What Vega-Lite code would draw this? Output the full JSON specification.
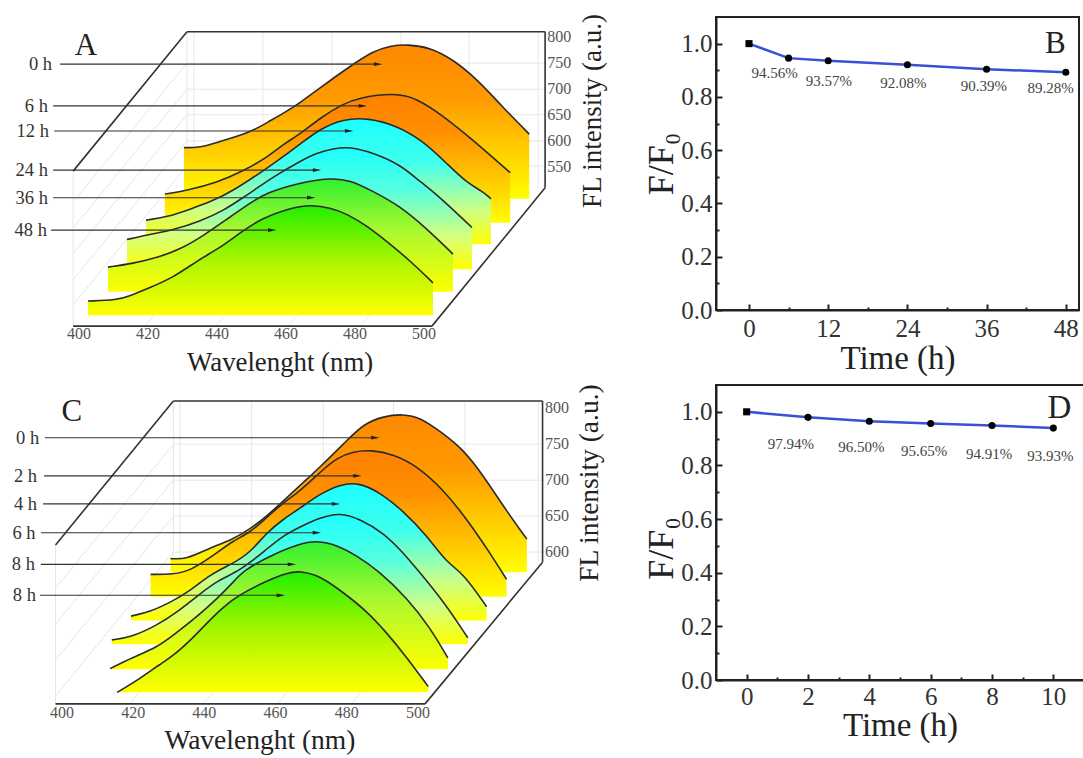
{"$schema":"https://vega.github.io/schema/vega-lite/v6.json","padding":{"left":0,"top":13,"right":0,"bottom":0},"background":"white","config":{"font":"Liberation Serif","text":{"font":"Liberation Serif"},"axis":{"labelFont":"Liberation Serif","titleFont":"Liberation Serif"}},
"datasets":{
"aC":[
{"s":0,"nm":430.4,"v":588,"b":490},{"s":0,"nm":435.1,"v":588,"b":490},{"s":0,"nm":440.0,"v":598,"b":490},{"s":0,"nm":449.6,"v":617,"b":490},{"s":0,"nm":454.5,"v":636,"b":490},{"s":0,"nm":460.3,"v":658,"b":490},{"s":0,"nm":464.1,"v":674,"b":490},{"s":0,"nm":469.9,"v":703,"b":490},{"s":0,"nm":478.6,"v":744,"b":490},{"s":0,"nm":485.2,"v":773,"b":490},{"s":0,"nm":490.2,"v":783,"b":490},{"s":0,"nm":495.1,"v":786,"b":490},{"s":0,"nm":501.8,"v":780,"b":490},{"s":0,"nm":508.4,"v":757,"b":490},{"s":0,"nm":515.4,"v":719,"b":490},{"s":0,"nm":522.9,"v":665,"b":490},{"s":0,"nm":530.5,"v":614,"b":490},
{"s":6,"nm":424.9,"v":499,"b":444},{"s":6,"nm":431.3,"v":506,"b":444},{"s":6,"nm":440.0,"v":521,"b":444},{"s":6,"nm":447.5,"v":543,"b":444},{"s":6,"nm":454.5,"v":569,"b":444},{"s":6,"nm":459.1,"v":594,"b":444},{"s":6,"nm":464.1,"v":614,"b":444},{"s":6,"nm":469.9,"v":645,"b":444},{"s":6,"nm":476.5,"v":672,"b":444},{"s":6,"nm":481.5,"v":684,"b":444},{"s":6,"nm":491.6,"v":693,"b":444},{"s":6,"nm":498.0,"v":682,"b":444},{"s":6,"nm":505.5,"v":649,"b":444},{"s":6,"nm":513.4,"v":607,"b":444},{"s":6,"nm":525.0,"v":540,"b":444},
{"s":12,"nm":419.4,"v":449,"b":403},{"s":12,"nm":425.5,"v":455,"b":403},{"s":12,"nm":432.2,"v":470,"b":403},{"s":12,"nm":438.8,"v":486,"b":403},{"s":12,"nm":444.6,"v":505,"b":403},{"s":12,"nm":453.3,"v":543,"b":403},{"s":12,"nm":460.3,"v":576,"b":403},{"s":12,"nm":464.1,"v":595,"b":403},{"s":12,"nm":469.9,"v":624,"b":403},{"s":12,"nm":476.5,"v":643,"b":403},{"s":12,"nm":483.8,"v":645,"b":403},{"s":12,"nm":492.2,"v":630,"b":403},{"s":12,"nm":499.7,"v":601,"b":403},{"s":12,"nm":506.7,"v":557,"b":403},{"s":12,"nm":512.5,"v":520,"b":403},{"s":12,"nm":516.8,"v":505,"b":403},{"s":12,"nm":519.4,"v":490,"b":403},
{"s":24,"nm":413.9,"v":412,"b":355},{"s":24,"nm":420.6,"v":422,"b":355},{"s":24,"nm":427.3,"v":430,"b":355},{"s":24,"nm":435.1,"v":447,"b":355},{"s":24,"nm":441.8,"v":467,"b":355},{"s":24,"nm":447.5,"v":492,"b":355},{"s":24,"nm":450.4,"v":505,"b":355},{"s":24,"nm":456.8,"v":534,"b":355},{"s":24,"nm":464.1,"v":562,"b":355},{"s":24,"nm":469.0,"v":578,"b":355},{"s":24,"nm":473.6,"v":586,"b":355},{"s":24,"nm":478.6,"v":590,"b":355},{"s":24,"nm":485.2,"v":578,"b":355},{"s":24,"nm":493.1,"v":556,"b":355},{"s":24,"nm":499.7,"v":518,"b":355},{"s":24,"nm":502.6,"v":505,"b":355},{"s":24,"nm":513.9,"v":435,"b":355},
{"s":36,"nm":408.4,"v":359,"b":312},{"s":36,"nm":415.7,"v":366,"b":312},{"s":36,"nm":422.6,"v":377,"b":312},{"s":36,"nm":429.3,"v":393,"b":312},{"s":36,"nm":436.0,"v":419,"b":312},{"s":36,"nm":442.9,"v":451,"b":312},{"s":36,"nm":449.6,"v":482,"b":312},{"s":36,"nm":454.5,"v":502,"b":312},{"s":36,"nm":464.1,"v":521,"b":312},{"s":36,"nm":472.8,"v":530,"b":312},{"s":36,"nm":478.6,"v":526,"b":312},{"s":36,"nm":485.0,"v":505,"b":312},{"s":36,"nm":493.1,"v":476,"b":312},{"s":36,"nm":500.9,"v":432,"b":312},{"s":36,"nm":508.4,"v":384,"b":312},
{"s":48,"nm":402.6,"v":294,"b":267},{"s":48,"nm":411.0,"v":296,"b":267},{"s":48,"nm":414.8,"v":304,"b":267},{"s":48,"nm":420.6,"v":320,"b":267},{"s":48,"nm":427.3,"v":339,"b":267},{"s":48,"nm":435.1,"v":375,"b":267},{"s":48,"nm":440.9,"v":396,"b":267},{"s":48,"nm":446.7,"v":425,"b":267},{"s":48,"nm":453.3,"v":454,"b":267},{"s":48,"nm":460.3,"v":470,"b":267},{"s":48,"nm":464.1,"v":475,"b":267},{"s":48,"nm":467.0,"v":478,"b":267},{"s":48,"nm":472.8,"v":473,"b":267},{"s":48,"nm":477.7,"v":461,"b":267},{"s":48,"nm":483.5,"v":438,"b":267},{"s":48,"nm":490.2,"v":403,"b":267},{"s":48,"nm":496.0,"v":371,"b":267},{"s":48,"nm":502.6,"v":329,"b":267}],
"cC":[
{"s":1,"nm":430.5,"v":591,"b":572},{"s":1,"nm":435.0,"v":590,"b":572},{"s":1,"nm":440.7,"v":604,"b":572},{"s":1,"nm":448.1,"v":618,"b":572},{"s":1,"nm":452.8,"v":632,"b":572},{"s":1,"nm":457.5,"v":650,"b":572},{"s":1,"nm":462.2,"v":671,"b":572},{"s":1,"nm":466.9,"v":693,"b":572},{"s":1,"nm":472.5,"v":718,"b":572},{"s":1,"nm":480.0,"v":755,"b":572},{"s":1,"nm":484.7,"v":778,"b":572},{"s":1,"nm":490.3,"v":789,"b":572},{"s":1,"nm":495.9,"v":792,"b":572},{"s":1,"nm":500.6,"v":787,"b":572},{"s":1,"nm":506.2,"v":768,"b":572},{"s":1,"nm":512.7,"v":743,"b":572},{"s":1,"nm":518.4,"v":706,"b":572},{"s":1,"nm":524.9,"v":657,"b":572},{"s":1,"nm":530.6,"v":618,"b":572},
{"s":2,"nm":424.9,"v":569,"b":538},{"s":2,"nm":431.3,"v":569,"b":538},{"s":2,"nm":436.0,"v":574,"b":538},{"s":2,"nm":442.5,"v":595,"b":538},{"s":2,"nm":448.1,"v":616,"b":538},{"s":2,"nm":452.8,"v":627,"b":538},{"s":2,"nm":457.5,"v":648,"b":538},{"s":2,"nm":462.2,"v":669,"b":538},{"s":2,"nm":466.9,"v":685,"b":538},{"s":2,"nm":472.5,"v":711,"b":538},{"s":2,"nm":477.2,"v":731,"b":538},{"s":2,"nm":481.8,"v":740,"b":538},{"s":2,"nm":487.0,"v":742,"b":538},{"s":2,"nm":493.1,"v":736,"b":538},{"s":2,"nm":499.7,"v":720,"b":538},{"s":2,"nm":507.1,"v":687,"b":538},{"s":2,"nm":513.7,"v":646,"b":538},{"s":2,"nm":520.2,"v":599,"b":538},{"s":2,"nm":524.9,"v":562,"b":538},
{"s":3,"nm":419.4,"v":511,"b":505},{"s":3,"nm":424.7,"v":517,"b":505},{"s":3,"nm":430.4,"v":530,"b":505},{"s":3,"nm":436.0,"v":546,"b":505},{"s":3,"nm":441.6,"v":569,"b":505},{"s":3,"nm":448.0,"v":584,"b":505},{"s":3,"nm":452.8,"v":599,"b":505},{"s":3,"nm":457.5,"v":627,"b":505},{"s":3,"nm":462.2,"v":646,"b":505},{"s":3,"nm":466.9,"v":661,"b":505},{"s":3,"nm":472.5,"v":681,"b":505},{"s":3,"nm":478.1,"v":694,"b":505},{"s":3,"nm":483.2,"v":697,"b":505},{"s":3,"nm":489.3,"v":683,"b":505},{"s":3,"nm":495.9,"v":657,"b":505},{"s":3,"nm":502.5,"v":623,"b":505},{"s":3,"nm":508.1,"v":585,"b":505},{"s":3,"nm":512.7,"v":571,"b":505},{"s":3,"nm":519.3,"v":524,"b":505},
{"s":4,"nm":414.0,"v":478,"b":472},{"s":4,"nm":419.1,"v":481,"b":472},{"s":4,"nm":426.6,"v":498,"b":472},{"s":4,"nm":432.2,"v":516,"b":472},{"s":4,"nm":438.8,"v":542,"b":472},{"s":4,"nm":443.5,"v":560,"b":472},{"s":4,"nm":450.0,"v":574,"b":472},{"s":4,"nm":457.5,"v":604,"b":472},{"s":4,"nm":462.2,"v":623,"b":472},{"s":4,"nm":466.9,"v":635,"b":472},{"s":4,"nm":472.5,"v":648,"b":472},{"s":4,"nm":478.1,"v":655,"b":472},{"s":4,"nm":483.7,"v":646,"b":472},{"s":4,"nm":490.3,"v":627,"b":472},{"s":4,"nm":495.9,"v":599,"b":472},{"s":4,"nm":500.1,"v":574,"b":472},{"s":4,"nm":507.1,"v":532,"b":472},{"s":4,"nm":514.0,"v":481,"b":472},
{"s":5,"nm":413.5,"v":438,"b":437},{"s":5,"nm":420.0,"v":454,"b":437},{"s":5,"nm":426.6,"v":467,"b":437},{"s":5,"nm":432.2,"v":488,"b":437},{"s":5,"nm":438.8,"v":514,"b":437},{"s":5,"nm":443.5,"v":535,"b":437},{"s":5,"nm":448.1,"v":558,"b":437},{"s":5,"nm":450.9,"v":574,"b":437},{"s":5,"nm":458.4,"v":595,"b":437},{"s":5,"nm":466.9,"v":612,"b":437},{"s":5,"nm":471.6,"v":616,"b":437},{"s":5,"nm":477.2,"v":610,"b":437},{"s":5,"nm":482.8,"v":595,"b":437},{"s":5,"nm":488.9,"v":574,"b":437},{"s":5,"nm":496.8,"v":537,"b":437},{"s":5,"nm":503.4,"v":495,"b":437},{"s":5,"nm":508.4,"v":453,"b":437},
{"s":6,"nm":415.5,"v":405,"b":405},{"s":6,"nm":421.9,"v":424,"b":405},{"s":6,"nm":427.5,"v":444,"b":405},{"s":6,"nm":431.3,"v":456,"b":405},{"s":6,"nm":436.9,"v":481,"b":405},{"s":6,"nm":442.5,"v":511,"b":405},{"s":6,"nm":448.1,"v":535,"b":405},{"s":6,"nm":451.9,"v":546,"b":405},{"s":6,"nm":457.5,"v":560,"b":405},{"s":6,"nm":463.1,"v":571,"b":405},{"s":6,"nm":466.9,"v":574,"b":405},{"s":6,"nm":472.5,"v":567,"b":405},{"s":6,"nm":479.0,"v":544,"b":405},{"s":6,"nm":485.6,"v":518,"b":405},{"s":6,"nm":491.2,"v":488,"b":405},{"s":6,"nm":496.8,"v":454,"b":405},{"s":6,"nm":502.9,"v":413,"b":405}],
"aL":[
{"k":"g","nm":433.3,"v":810,"nm2":433.3,"v2":511},{"k":"g","nm":453.3,"v":810,"nm2":453.3,"v2":511},{"k":"g","nm":473.3,"v":810,"nm2":473.3,"v2":511},{"k":"g","nm":493.3,"v":810,"nm2":493.3,"v2":511},{"k":"g","nm":513.1,"v":810,"nm2":513.1,"v2":511},{"k":"g","nm":533.1,"v":810,"nm2":533.1,"v2":511},{"k":"g","nm":431.3,"v":810,"nm2":431.3,"v2":511},{"k":"g","nm":398.3,"v":543,"nm2":398.3,"v2":246},
{"k":"g","nm":431.3,"v":750,"nm2":535.1,"v2":750},{"k":"g","nm":431.3,"v":700,"nm2":535.1,"v2":700},{"k":"g","nm":431.3,"v":651,"nm2":535.1,"v2":651},{"k":"g","nm":431.3,"v":601,"nm2":535.1,"v2":601},{"k":"g","nm":431.3,"v":553,"nm2":535.1,"v2":553},
{"k":"g","nm":431.3,"v":750,"nm2":398.3,"v2":484},{"k":"g","nm":431.3,"v":700,"nm2":398.3,"v2":434},{"k":"g","nm":431.3,"v":651,"nm2":398.3,"v2":385},{"k":"g","nm":431.3,"v":601,"nm2":398.3,"v2":335},{"k":"g","nm":431.3,"v":553,"nm2":398.3,"v2":287},
{"k":"g","nm":419.1,"v":246,"nm2":452.2,"v2":511},{"k":"g","nm":439.7,"v":246,"nm2":472.8,"v2":511},{"k":"g","nm":460.6,"v":246,"nm2":493.6,"v2":511},{"k":"g","nm":481.5,"v":246,"nm2":514.5,"v2":511},
{"k":"f","nm":398.3,"v":543,"nm2":431.3,"v2":810},{"k":"f","nm":431.3,"v":810,"nm2":535.1,"v2":810},{"k":"f","nm":535.1,"v":810,"nm2":535.1,"v2":511},{"k":"f","nm":535.1,"v":511,"nm2":502.3,"v2":246},{"k":"f","nm":502.3,"v":246,"nm2":398.3,"v2":246}],
"cL":[
{"k":"g","nm":433.2,"v":810,"nm2":433.2,"v2":586},{"k":"g","nm":453.3,"v":810,"nm2":453.3,"v2":586},{"k":"g","nm":473.4,"v":810,"nm2":473.4,"v2":586},{"k":"g","nm":493.1,"v":810,"nm2":493.1,"v2":586},{"k":"g","nm":513.2,"v":810,"nm2":513.2,"v2":586},{"k":"g","nm":533.8,"v":810,"nm2":533.8,"v2":586},{"k":"g","nm":431.3,"v":810,"nm2":431.3,"v2":586},{"k":"g","nm":398.2,"v":610,"nm2":398.2,"v2":389},
{"k":"g","nm":431.3,"v":750,"nm2":535,"v2":750},{"k":"g","nm":431.3,"v":700,"nm2":535,"v2":700},{"k":"g","nm":431.3,"v":650,"nm2":535,"v2":650},{"k":"g","nm":431.3,"v":600,"nm2":535,"v2":600},
{"k":"g","nm":431.3,"v":750,"nm2":398.2,"v2":550},{"k":"g","nm":431.3,"v":700,"nm2":398.2,"v2":500},{"k":"g","nm":431.3,"v":650,"nm2":398.2,"v2":450},{"k":"g","nm":431.3,"v":600,"nm2":398.2,"v2":400},
{"k":"g","nm":419,"v":389,"nm2":452,"v2":586},{"k":"g","nm":439.7,"v":389,"nm2":472.8,"v2":586},{"k":"g","nm":460.5,"v":389,"nm2":493.5,"v2":586},{"k":"g","nm":481.2,"v":389,"nm2":514.3,"v2":586},
{"k":"f","nm":398.2,"v":610,"nm2":431.3,"v2":810},{"k":"f","nm":431.3,"v":810,"nm2":535,"v2":810},{"k":"f","nm":535,"v":810,"nm2":535,"v2":586},{"k":"f","nm":535,"v":586,"nm2":502,"v2":389},{"k":"f","nm":502,"v":389,"nm2":398.2,"v2":389}],
"aA":[{"t":"0 h","lx":392.2,"nm":394.5,"nm2":486.7,"v":748},{"t":"6 h","lx":391,"nm":392.5,"nm2":482.3,"v":668},{"t":"12 h","lx":391.3,"nm":392.8,"nm2":478.3,"v":620},{"t":"24 h","lx":391,"nm":392.5,"nm2":469,"v":545},{"t":"36 h","lx":391,"nm":392.5,"nm2":467.3,"v":492},{"t":"48 h","lx":390.7,"nm":391.9,"nm2":456,"v":430}],
"cA":[{"t":"0 h","lx":393.6,"nm":395.2,"nm2":488,"v":759},{"t":"2 h","lx":393,"nm":395,"nm2":483,"v":706},{"t":"4 h","lx":393,"nm":394.7,"nm2":477,"v":667},{"t":"6 h","lx":392.6,"nm":394.1,"nm2":471.6,"v":627},{"t":"8 h","lx":392.4,"nm":394.1,"nm2":464.6,"v":583},{"t":"8 h","lx":392.7,"nm":393.8,"nm2":461.5,"v":540}],
"aT":[{"g":"x","t":"400","nm":400,"v":231},{"g":"x","t":"420","nm":420,"v":231},{"g":"x","t":"440","nm":440,"v":231},{"g":"x","t":"460","nm":460,"v":231},{"g":"x","t":"480","nm":480,"v":231},{"g":"x","t":"500","nm":500,"v":231},{"g":"y","t":"800","nm":535.7,"v":800},{"g":"y","t":"750","nm":535.7,"v":750},{"g":"y","t":"700","nm":535.7,"v":700},{"g":"y","t":"650","nm":535.7,"v":650},{"g":"y","t":"600","nm":535.7,"v":600},{"g":"y","t":"550","nm":535.7,"v":550},{"g":"xt","t":"Wavelenght (nm)","nm":458.3,"v":175},{"g":"yt","t":"FL intensity (a.u.)","nm":549,"v":658},{"g":"l","t":"A","nm":402,"v":783}],
"cT":[{"g":"x","t":"400","nm":400,"v":377},{"g":"x","t":"420","nm":420,"v":377},{"g":"x","t":"440","nm":440,"v":377},{"g":"x","t":"460","nm":460,"v":377},{"g":"x","t":"480","nm":480,"v":377},{"g":"x","t":"500","nm":500,"v":377},{"g":"y","t":"800","nm":535.7,"v":800},{"g":"y","t":"750","nm":535.7,"v":750},{"g":"y","t":"700","nm":535.7,"v":700},{"g":"y","t":"650","nm":535.7,"v":650},{"g":"y","t":"600","nm":535.7,"v":600},{"g":"xt","t":"Wavelenght (nm)","nm":455.6,"v":338},{"g":"yt","t":"FL intensity (a.u.)","nm":548.3,"v":696},{"g":"l","t":"C","nm":402.8,"v":795}],
"b":[{"h":0,"r":1},{"h":6,"r":0.9456},{"h":12,"r":0.9357},{"h":24,"r":0.9208},{"h":36,"r":0.9039},{"h":48,"r":0.8928}],
"bT":[{"t":"94.56%","h":3.88,"r":0.891},{"t":"93.57%","h":12.1,"r":0.86},{"t":"92.08%","h":23.4,"r":0.853},{"t":"90.39%","h":35.6,"r":0.841},{"t":"89.28%","h":45.7,"r":0.832}],
"d":[{"h":0,"r":1},{"h":2,"r":0.9794},{"h":4,"r":0.965},{"h":6,"r":0.9565},{"h":8,"r":0.9491},{"h":10,"r":0.9393}],
"dT":[{"t":"97.94%","h":1.44,"r":0.881},{"t":"96.50%","h":3.74,"r":0.87},{"t":"95.65%","h":5.79,"r":0.854},{"t":"94.91%","h":7.91,"r":0.843},{"t":"93.93%","h":9.9,"r":0.835}]
},
"concat":[
{"width":700,"height":293,"view":{"stroke":null},
"encoding":{"x":{"field":"nm","type":"quantitative","scale":{"domain":[377.1,580],"nice":false,"zero":false},"axis":null},"y":{"field":"v","type":"quantitative","scale":{"domain":[276.9,838.3],"nice":false,"zero":false},"axis":null}},
"layer":[
{"data":{"name":"aL"},"transform":[{"filter":"datum.k=='g'"}],"mark":{"type":"rule","color":"#e6e6e6","strokeWidth":1},"encoding":{"x2":{"field":"nm2"},"y2":{"field":"v2"}}},
{"data":{"name":"aL"},"transform":[{"filter":"datum.k=='f'"}],"mark":{"type":"rule","color":"#333333","strokeWidth":1.6},"encoding":{"x2":{"field":"nm2"},"y2":{"field":"v2"}}},
{"data":{"name":"aC"},"transform":[{"filter":"datum.s==0"}],"mark":{"type":"area","opacity":1,"orient":"vertical","interpolate":"basis","line":{"color":"#2b2b2b","strokeWidth":1.6},"color":{"gradient":"linear","x1":0,"y1":0,"x2":0,"y2":1,"stops":[{"offset":0,"color":"#ff8800"},{"offset":0.35,"color":"#ff9a00"},{"offset":1,"color":"#ffff00"}]}},"encoding":{"y2":{"field":"b"}}},
{"data":{"name":"aC"},"transform":[{"filter":"datum.s==6"}],"mark":{"type":"area","opacity":1,"orient":"vertical","interpolate":"basis","line":{"color":"#2b2b2b","strokeWidth":1.6},"color":{"gradient":"linear","x1":0,"y1":0,"x2":0,"y2":1,"stops":[{"offset":0,"color":"#ff8000"},{"offset":0.3,"color":"#ff9000"},{"offset":1,"color":"#ffff00"}]}},"encoding":{"y2":{"field":"b"}}},
{"data":{"name":"aC"},"transform":[{"filter":"datum.s==12"}],"mark":{"type":"area","opacity":1,"orient":"vertical","interpolate":"basis","line":{"color":"#2b2b2b","strokeWidth":1.6},"color":{"gradient":"linear","x1":0,"y1":0,"x2":0,"y2":1,"stops":[{"offset":0,"color":"#1affff"},{"offset":0.35,"color":"#40ffee"},{"offset":0.72,"color":"#ccff88"},{"offset":1,"color":"#ffff00"}]}},"encoding":{"y2":{"field":"b"}}},
{"data":{"name":"aC"},"transform":[{"filter":"datum.s==24"}],"mark":{"type":"area","opacity":1,"orient":"vertical","interpolate":"basis","line":{"color":"#2b2b2b","strokeWidth":1.6},"color":{"gradient":"linear","x1":0,"y1":0,"x2":0,"y2":1,"stops":[{"offset":0,"color":"#1affff"},{"offset":0.35,"color":"#55ffe0"},{"offset":0.72,"color":"#d4ff80"},{"offset":1,"color":"#ffff00"}]}},"encoding":{"y2":{"field":"b"}}},
{"data":{"name":"aC"},"transform":[{"filter":"datum.s==36"}],"mark":{"type":"area","opacity":1,"orient":"vertical","interpolate":"basis","line":{"color":"#2b2b2b","strokeWidth":1.6},"color":{"gradient":"linear","x1":0,"y1":0,"x2":0,"y2":1,"stops":[{"offset":0,"color":"#30f030"},{"offset":0.45,"color":"#a8f830"},{"offset":1,"color":"#ffff00"}]}},"encoding":{"y2":{"field":"b"}}},
{"data":{"name":"aC"},"transform":[{"filter":"datum.s==48"}],"mark":{"type":"area","opacity":1,"orient":"vertical","interpolate":"basis","line":{"color":"#2b2b2b","strokeWidth":1.6},"color":{"gradient":"linear","x1":0,"y1":0,"x2":0,"y2":1,"stops":[{"offset":0,"color":"#22ee00"},{"offset":0.5,"color":"#aaf500"},{"offset":1,"color":"#ffff00"}]}},"encoding":{"y2":{"field":"b"}}},
{"data":{"name":"aA"},"mark":{"type":"rule","color":"#333333","strokeWidth":1.1},"encoding":{"x2":{"field":"nm2"}}},
{"data":{"name":"aA"},"mark":{"type":"point","filled":true,"opacity":1,"color":"#222222","shape":"M-1,-0.45L1,0L-1,0.45Z","size":70},"encoding":{"x":{"field":"nm2","type":"quantitative"}}},
{"data":{"name":"aA"},"mark":{"type":"text","align":"right","fontSize":18.5,"color":"#333333"},"encoding":{"x":{"field":"lx","type":"quantitative"},"text":{"field":"t"}}},
{"data":{"name":"aT"},"transform":[{"filter":"datum.g=='x'"}],"mark":{"type":"text","fontSize":16,"color":"#555555"},"encoding":{"text":{"field":"t"}}},
{"data":{"name":"aT"},"transform":[{"filter":"datum.g=='y'"}],"mark":{"type":"text","align":"left","fontSize":16,"color":"#555555"},"encoding":{"text":{"field":"t"}}},
{"data":{"name":"aT"},"transform":[{"filter":"datum.g=='xt'"}],"mark":{"type":"text","fontSize":26.8,"color":"#222222"},"encoding":{"text":{"field":"t"}}},
{"data":{"name":"aT"},"transform":[{"filter":"datum.g=='yt'"}],"mark":{"type":"text","fontSize":27,"angle":270,"color":"#222222"},"encoding":{"text":{"field":"t"}}},
{"data":{"name":"aT"},"transform":[{"filter":"datum.g=='l'"}],"mark":{"type":"text","fontSize":31,"color":"#222222"},"encoding":{"text":{"field":"t"}}}
]},
{"width":363,"height":293,"view":{"stroke":"#222222","strokeWidth":2},
"encoding":{"x":{"field":"h","type":"quantitative","title":"Time (h)","scale":{"domain":[-5,50],"nice":false,"zero":false},"axis":{"values":[0,6,12,18,24,30,36,42,48],"labelExpr":"datum.value%12==0?datum.label:''","grid":false,"domainColor":"#222222","domainWidth":2,"tickColor":"#222222","tickWidth":2,"tickSize":{"condition":{"test":"datum.value%12==0","value":-6},"value":-3},"labelFontSize":25,"labelColor":"#333333","labelPadding":12,"labelFlush":false,"titleFontSize":33,"titleFontWeight":"normal","titleColor":"#222222","titlePadding":1}},"y":{"field":"r","type":"quantitative","title":"F/F₀","scale":{"domain":[0,1.1],"nice":false,"zero":false},"axis":{"values":[0,0.1,0.2,0.3,0.4,0.5,0.6,0.7,0.8,0.9,1],"labelExpr":"round(datum.value*10)%2==0?format(datum.value,'.1f'):''","grid":false,"domainColor":"#222222","domainWidth":2,"tickColor":"#222222","tickWidth":2,"tickSize":{"condition":{"test":"round(datum.value*10)%2==0","value":-6},"value":-3},"labelFontSize":25,"labelColor":"#333333","labelPadding":10,"labelFlush":false,"titleFontSize":36,"titleFontWeight":"normal","titleColor":"#222222","titlePadding":0}}},
"layer":[
{"data":{"name":"b"},"mark":{"type":"line","color":"#3a50d8","strokeWidth":2.5}},
{"data":{"name":"b"},"mark":{"type":"point","filled":true,"opacity":1,"color":"#000000","size":50},"encoding":{"shape":{"condition":{"test":"datum.h==0","value":"square"},"value":"circle"}}},
{"data":{"name":"bT"},"mark":{"type":"text","fontSize":15,"color":"#444444"},"encoding":{"text":{"field":"t"}}},
{"data":{"values":[{"t":"B","h":46.4,"r":1}]},"mark":{"type":"text","fontSize":31,"color":"#222222"},"encoding":{"text":{"field":"t"}}}
]},
{"width":696,"height":295,"view":{"stroke":null},
"encoding":{"x":{"field":"nm","type":"quantitative","scale":{"domain":[382.6,578.1],"nice":false,"zero":false},"axis":null},"y":{"field":"v","type":"quantitative","scale":{"domain":[422.2,832.3],"nice":false,"zero":false},"axis":null}},
"layer":[
{"data":{"name":"cL"},"transform":[{"filter":"datum.k=='g'"}],"mark":{"type":"rule","color":"#e6e6e6","strokeWidth":1},"encoding":{"x2":{"field":"nm2"},"y2":{"field":"v2"}}},
{"data":{"name":"cL"},"transform":[{"filter":"datum.k=='f'"}],"mark":{"type":"rule","color":"#333333","strokeWidth":1.6},"encoding":{"x2":{"field":"nm2"},"y2":{"field":"v2"}}},
{"data":{"name":"cC"},"transform":[{"filter":"datum.s==1"}],"mark":{"type":"area","opacity":1,"orient":"vertical","interpolate":"basis","line":{"color":"#2b2b2b","strokeWidth":1.6},"color":{"gradient":"linear","x1":0,"y1":0,"x2":0,"y2":1,"stops":[{"offset":0,"color":"#ff8800"},{"offset":0.35,"color":"#ff9a00"},{"offset":1,"color":"#ffff00"}]}},"encoding":{"y2":{"field":"b"}}},
{"data":{"name":"cC"},"transform":[{"filter":"datum.s==2"}],"mark":{"type":"area","opacity":1,"orient":"vertical","interpolate":"basis","line":{"color":"#2b2b2b","strokeWidth":1.6},"color":{"gradient":"linear","x1":0,"y1":0,"x2":0,"y2":1,"stops":[{"offset":0,"color":"#ff8000"},{"offset":0.3,"color":"#ff9000"},{"offset":1,"color":"#ffff00"}]}},"encoding":{"y2":{"field":"b"}}},
{"data":{"name":"cC"},"transform":[{"filter":"datum.s==3"}],"mark":{"type":"area","opacity":1,"orient":"vertical","interpolate":"basis","line":{"color":"#2b2b2b","strokeWidth":1.6},"color":{"gradient":"linear","x1":0,"y1":0,"x2":0,"y2":1,"stops":[{"offset":0,"color":"#1affff"},{"offset":0.35,"color":"#40ffee"},{"offset":0.72,"color":"#ccff88"},{"offset":1,"color":"#ffff00"}]}},"encoding":{"y2":{"field":"b"}}},
{"data":{"name":"cC"},"transform":[{"filter":"datum.s==4"}],"mark":{"type":"area","opacity":1,"orient":"vertical","interpolate":"basis","line":{"color":"#2b2b2b","strokeWidth":1.6},"color":{"gradient":"linear","x1":0,"y1":0,"x2":0,"y2":1,"stops":[{"offset":0,"color":"#1affff"},{"offset":0.35,"color":"#55ffe0"},{"offset":0.72,"color":"#d4ff80"},{"offset":1,"color":"#ffff00"}]}},"encoding":{"y2":{"field":"b"}}},
{"data":{"name":"cC"},"transform":[{"filter":"datum.s==5"}],"mark":{"type":"area","opacity":1,"orient":"vertical","interpolate":"basis","line":{"color":"#2b2b2b","strokeWidth":1.6},"color":{"gradient":"linear","x1":0,"y1":0,"x2":0,"y2":1,"stops":[{"offset":0,"color":"#30f030"},{"offset":0.45,"color":"#a8f830"},{"offset":1,"color":"#ffff00"}]}},"encoding":{"y2":{"field":"b"}}},
{"data":{"name":"cC"},"transform":[{"filter":"datum.s==6"}],"mark":{"type":"area","opacity":1,"orient":"vertical","interpolate":"basis","line":{"color":"#2b2b2b","strokeWidth":1.6},"color":{"gradient":"linear","x1":0,"y1":0,"x2":0,"y2":1,"stops":[{"offset":0,"color":"#22ee00"},{"offset":0.5,"color":"#aaf500"},{"offset":1,"color":"#ffff00"}]}},"encoding":{"y2":{"field":"b"}}},
{"data":{"name":"cA"},"mark":{"type":"rule","color":"#333333","strokeWidth":1.1},"encoding":{"x2":{"field":"nm2"}}},
{"data":{"name":"cA"},"mark":{"type":"point","filled":true,"opacity":1,"color":"#222222","shape":"M-1,-0.45L1,0L-1,0.45Z","size":70},"encoding":{"x":{"field":"nm2","type":"quantitative"}}},
{"data":{"name":"cA"},"mark":{"type":"text","align":"right","fontSize":18.5,"color":"#333333"},"encoding":{"x":{"field":"lx","type":"quantitative"},"text":{"field":"t"}}},
{"data":{"name":"cT"},"transform":[{"filter":"datum.g=='x'"}],"mark":{"type":"text","fontSize":16,"color":"#555555"},"encoding":{"text":{"field":"t"}}},
{"data":{"name":"cT"},"transform":[{"filter":"datum.g=='y'"}],"mark":{"type":"text","align":"left","fontSize":16,"color":"#555555"},"encoding":{"text":{"field":"t"}}},
{"data":{"name":"cT"},"transform":[{"filter":"datum.g=='xt'"}],"mark":{"type":"text","fontSize":27.5,"color":"#222222"},"encoding":{"text":{"field":"t"}}},
{"data":{"name":"cT"},"transform":[{"filter":"datum.g=='yt'"}],"mark":{"type":"text","fontSize":27.5,"angle":270,"color":"#222222"},"encoding":{"text":{"field":"t"}}},
{"data":{"name":"cT"},"transform":[{"filter":"datum.g=='l'"}],"mark":{"type":"text","fontSize":31,"color":"#222222"},"encoding":{"text":{"field":"t"}}}
]},
{"width":368,"height":295,"view":{"stroke":"#222222","strokeWidth":2},
"encoding":{"x":{"field":"h","type":"quantitative","title":"Time (h)","scale":{"domain":[-1,11],"nice":false,"zero":false},"axis":{"values":[0,1,2,3,4,5,6,7,8,9,10],"labelExpr":"datum.value%2==0?datum.label:''","grid":false,"domainColor":"#222222","domainWidth":2,"tickColor":"#222222","tickWidth":2,"tickSize":{"condition":{"test":"datum.value%2==0","value":-6},"value":-3},"labelFontSize":25,"labelColor":"#333333","labelPadding":10,"labelFlush":false,"titleFontSize":33,"titleFontWeight":"normal","titleColor":"#222222","titlePadding":0}},"y":{"field":"r","type":"quantitative","title":"F/F₀","scale":{"domain":[0,1.1],"nice":false,"zero":false},"axis":{"values":[0,0.1,0.2,0.3,0.4,0.5,0.6,0.7,0.8,0.9,1],"labelExpr":"round(datum.value*10)%2==0?format(datum.value,'.1f'):''","grid":false,"domainColor":"#222222","domainWidth":2,"tickColor":"#222222","tickWidth":2,"tickSize":{"condition":{"test":"round(datum.value*10)%2==0","value":-6},"value":-3},"labelFontSize":25,"labelColor":"#333333","labelPadding":10,"labelFlush":false,"titleFontSize":36,"titleFontWeight":"normal","titleColor":"#222222","titlePadding":0,"titleY":163}}},
"layer":[
{"data":{"name":"d"},"mark":{"type":"line","color":"#3a50d8","strokeWidth":2.5}},
{"data":{"name":"d"},"mark":{"type":"point","filled":true,"opacity":1,"color":"#000000","size":50},"encoding":{"shape":{"condition":{"test":"datum.h==0","value":"square"},"value":"circle"}}},
{"data":{"name":"dT"},"mark":{"type":"text","fontSize":15,"color":"#444444"},"encoding":{"text":{"field":"t"}}},
{"data":{"values":[{"t":"D","h":10.2,"r":1.015}]},"mark":{"type":"text","fontSize":33,"color":"#222222"},"encoding":{"text":{"field":"t"}}}
]}
],"columns":2,"spacing":{"row":75,"column":16},"bounds":"flush","align":"none"}
